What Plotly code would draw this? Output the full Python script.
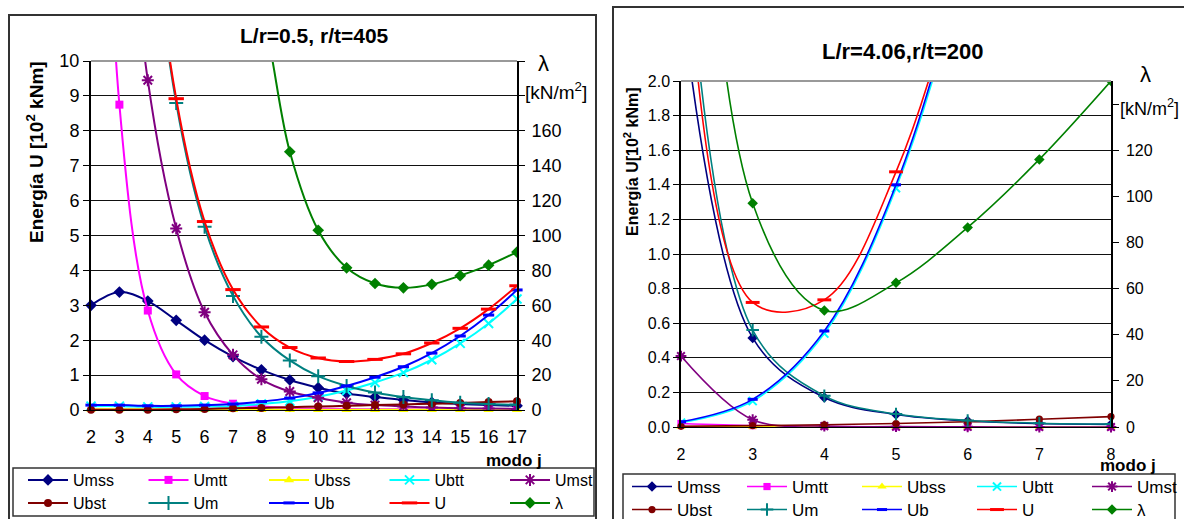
import plotly.graph_objects as go

W, H = 1184, 519

# ---------------- data ----------------
series_names = ["Umss", "Umtt", "Ubss", "Ubtt", "Umst", "Ubst", "Um", "Ub", "U", "λ"]

j_left = [2, 3, 4, 5, 6, 7, 8, 9, 10, 11, 12, 13, 14, 15, 16, 17]
L_Umss = [3.0, 3.38, 3.12, 2.57, 2.0, 1.53, 1.15, 0.86, 0.64, 0.47, 0.37, 0.29, 0.22, 0.17, 0.14, 0.12]
L_Umtt = [30.0, 8.75, 2.85, 1.02, 0.40, 0.18, 0.10, 0.06, 0.04, 0.03, 0.02, 0.02, 0.01, 0.01, 0.01, 0.01]
L_Ubss = [0.02, 0.02, 0.02, 0.01, 0.01, 0.01, 0.01, 0.01, 0.01, 0.01, 0.01, 0.01, 0.01, 0.01, 0.01, 0.01]
L_Ubtt = [0.11, 0.11, 0.09, 0.09, 0.10, 0.11, 0.17, 0.25, 0.38, 0.56, 0.79, 1.07, 1.44, 1.91, 2.48, 3.18]
L_Umst = [40.0, 18.0, 9.45, 5.2, 2.8, 1.58, 0.88, 0.53, 0.35, 0.21, 0.14, 0.10, 0.07, 0.05, 0.04, 0.03]
L_Ubst = [0.01, 0.01, 0.01, 0.02, 0.03, 0.05, 0.06, 0.08, 0.10, 0.12, 0.14, 0.16, 0.18, 0.20, 0.23, 0.25]
L_Um = [72.9, 30.6, 15.4, 8.8, 5.25, 3.27, 2.10, 1.42, 0.97, 0.69, 0.50, 0.37, 0.28, 0.21, 0.17, 0.15]
L_Ub = [0.14, 0.14, 0.12, 0.12, 0.14, 0.17, 0.24, 0.34, 0.49, 0.69, 0.94, 1.24, 1.63, 2.12, 2.72, 3.44]
L_U = [73.0, 30.7, 15.5, 8.92, 5.40, 3.45, 2.38, 1.79, 1.49, 1.39, 1.45, 1.61, 1.92, 2.34, 2.89, 3.56]
L_lam = [2400, 1200, 700, 460, 330, 270, 230, 148, 103, 81.5, 72.5, 70, 72, 77, 83, 90.5]

j_right = [2, 3, 4, 5, 6, 7, 8]
R_Umss = [2.5, 0.515, 0.17, 0.072, 0.035, 0.02, 0.015]
R_Umtt = [0.02, 0.008, 0.003, 0.001, 0.0, 0.0, 0.0]
R_Ubss = [0.002, 0.001, 0.0, 0.0, 0.0, 0.0, 0.0]
R_Ubtt = [0.025, 0.15, 0.54, 1.38, 2.76, 4.95, 7.94]
R_Umst = [0.41, 0.042, 0.005, 0.002, 0.001, 0.0, 0.0]
R_Ubst = [0.004, 0.008, 0.013, 0.02, 0.03, 0.045, 0.06]
R_Um = [3.25, 0.56, 0.18, 0.075, 0.038, 0.022, 0.017]
R_Ub = [0.03, 0.16, 0.555, 1.40, 2.80, 5.00, 8.00]
R_U = [3.3, 0.72, 0.735, 1.475, 2.84, 5.02, 8.02]
R_lam = [450, 97, 50.5, 62.5, 86.5, 116, 150]

left_tick_lam = [0, 20, 40, 60, 80, 100, 120, 140, 160]
left_minor_lam = [180, 200]
right_tick_lam = [0, 20, 40, 60, 80, 100, 120]
right_minor_lam = [140]

# ---------------- styles ----------------
styles = {
    "Umss": dict(color="#000080", symbol="diamond", size=9, lw=0),
    "Umtt": dict(color="#FF00FF", symbol="square", size=8, lw=0),
    "Ubss": dict(color="#FFFF00", symbol="triangle-up", size=9, lw=0),
    "Ubtt": dict(color="#00FFFF", symbol="x-thin-open", size=9, lw=2),
    "Umst": dict(color="#800080", symbol="asterisk-open", size=10, lw=2),
    "Ubst": dict(color="#800000", symbol="circle", size=8, lw=0),
    "Um": dict(color="#008080", symbol="cross-thin-open", size=10, lw=2),
    "Ub": dict(color="#0000FF", symbol="line-ew-open", size=8, lw=3),
    "U": dict(color="#FF0000", symbol="line-ew-open", size=11, lw=3),
    "λ": dict(color="#008000", symbol="diamond", size=9, lw=0),
}

FONT = "Liberation Sans, Arial, sans-serif"

def px(x):
    return x / W

def py(y):
    return 1 - y / H

fig = go.Figure()

left_data = [L_Umss, L_Umtt, L_Ubss, L_Ubtt, L_Umst, L_Ubst, L_Um, L_Ub, L_U, L_lam]
right_data = [R_Umss, R_Umtt, R_Ubss, R_Ubtt, R_Umst, R_Ubst, R_Um, R_Ub, R_U, R_lam]

def add_panel(xs, data, xa, ya, ya2, ymax, y2max, legs, lwidth, msc):
    for i, (name, vals) in enumerate(zip(series_names, data)):
        st = styles[name]
        is_lam = name == "λ"
        top = y2max if is_lam else ymax
        inside = all(0 <= v <= top for v in vals)
        fig.add_trace(go.Scatter(
            x=xs, y=vals, name=name, mode="lines+markers",
            xaxis=xa, yaxis=ya2 if is_lam else ya,
            line=dict(color=st["color"], width=lwidth, shape="spline", smoothing=1.0),
            marker=dict(symbol=st["symbol"], size=st["size"] * msc, color=st["color"],
                        line=dict(color=st["color"], width=st["lw"])),
            cliponaxis=not inside,
            legend=legs[0] if i < 5 else legs[1],
            hoverinfo="skip",
        ))

add_panel(j_left, left_data, "x", "y", "y2", 10, 200, ["legend", "legend2"], 2, 1.0)
add_panel(j_right, right_data, "x2", "y3", "y4", 2, 150, ["legend3", "legend4"], 1.6, 0.9)

axis_common = dict(showline=True, linecolor="#000", zeroline=False, color="#000")

fig.update_layout(
    width=W, height=H,
    margin=dict(l=0, r=0, t=0, b=0, autoexpand=False),
    paper_bgcolor="white", plot_bgcolor="white",
    font=dict(family=FONT, color="#000"),
    showlegend=True,
    xaxis=dict(domain=[px(91), px(517)], anchor="y", range=[2, 17], tickvals=j_left,
               showgrid=False, ticks="", ticklabelstandoff=10, tickfont=dict(size=18),
               linewidth=1, **axis_common),
    yaxis=dict(domain=[py(410), py(61)], anchor="x", range=[0, 10], dtick=1,
               showgrid=True, gridcolor="#111", gridwidth=1, ticks="outside", ticklen=6,
               tickfont=dict(size=18), linewidth=2, **axis_common),
    yaxis2=dict(overlaying="y", side="right", anchor="x", range=[0, 200],
                tickvals=left_tick_lam, showgrid=False,
                minor=dict(tickvals=left_minor_lam, ticks="outside", ticklen=6, tickcolor="#000", showgrid=False),
                ticks="outside", ticklen=6, ticklabelstandoff=3, tickfont=dict(size=18),
                linewidth=2, **axis_common),
    xaxis2=dict(domain=[px(681), px(1111)], anchor="y3", range=[2, 8], tickvals=j_right,
                showgrid=False, ticks="", ticklabelstandoff=13, tickfont=dict(size=16),
                linewidth=1, **axis_common),
    yaxis3=dict(domain=[py(427), py(81)], anchor="x2", range=[0, 2], dtick=0.2, tickformat=".1f",
                showgrid=True, gridcolor="#111", gridwidth=1, ticks="outside", ticklen=6,
                tickfont=dict(size=16), linewidth=1.5, **axis_common),
    yaxis4=dict(overlaying="y3", side="right", anchor="x2", range=[0, 150],
                tickvals=right_tick_lam, showgrid=False,
                minor=dict(tickvals=right_minor_lam, ticks="outside", ticklen=6, tickcolor="#000", showgrid=False),
                ticks="outside", ticklen=6, ticklabelstandoff=4, tickfont=dict(size=16),
                linewidth=1.5, **axis_common),
)

leg_common = dict(orientation="h", xanchor="left", yanchor="middle", bgcolor="rgba(0,0,0,0)",
                  borderwidth=0, entrywidthmode="pixels", tracegroupgap=0, itemwidth=40)
fig.update_layout(
    legend=dict(x=px(23), y=py(480), entrywidth=65.5, font=dict(size=16, family=FONT), **leg_common),
    legend2=dict(x=px(23), y=py(503), entrywidth=65.5, font=dict(size=16, family=FONT), **leg_common),
    legend3=dict(x=px(627), y=py(487), entrywidth=60, font=dict(size=17, family=FONT), **leg_common),
    legend4=dict(x=px(627), y=py(510), entrywidth=60, font=dict(size=17, family=FONT), **leg_common),
)

shapes = [
    # outer panel borders
    dict(type="rect", xref="paper", yref="paper", x0=px(9), x1=px(596), y0=-0.05, y1=py(15),
         line=dict(color="#333", width=2), layer="below"),
    dict(type="rect", xref="paper", yref="paper", x0=px(613), x1=1.05, y0=-0.05, y1=py(7),
         line=dict(color="#333", width=2), layer="below"),
    # legend boxes
    dict(type="rect", xref="paper", yref="paper", x0=px(13), x1=px(594), y0=py(516), y1=py(468),
         line=dict(color="#333", width=1.5)),
    dict(type="rect", xref="paper", yref="paper", x0=px(623), x1=px(1175), y0=-0.05, y1=py(474),
         line=dict(color="#333", width=1.5)),
    # grey top edges of plot areas
    dict(type="line", xref="x domain", yref="y domain", x0=0, x1=1, y0=1, y1=1,
         line=dict(color="#999", width=2)),
    dict(type="line", xref="x2 domain", yref="y3 domain", x0=0, x1=1, y0=1, y1=1,
         line=dict(color="#999", width=2)),
]
fig.update_layout(shapes=shapes)

def ann(text, x, y, size, bold=False, angle=0):
    return dict(text=f"<b>{text}</b>" if bold else text, x=px(x), y=py(y), xref="paper", yref="paper",
                showarrow=False, xanchor="center", yanchor="middle", textangle=angle,
                font=dict(size=size, family=FONT, color="#000"))

annotations = [
    ann("L/r=0.5, r/t=405", 314, 36, 21, bold=True),
    ann("L/r=4.06,r/t=200", 902, 51, 22, bold=True),
    ann("Energía U [10<sup>2</sup> kNm]", 35, 152, 19, bold=True, angle=-90),
    ann("Energía U[10<sup>2</sup> kNm]", 631, 162, 16, bold=True, angle=-90),
    ann("λ", 543, 63, 22),
    ann("[kN/m<sup>2</sup>]", 556, 91, 19),
    ann("λ", 1145, 75, 22),
    ann("[kN/m<sup>2</sup>]", 1149, 107, 18),
    ann("modo j", 514, 460, 17, bold=True),
    ann("modo j", 1128, 465, 17, bold=True),
]
fig.update_layout(annotations=annotations)

fig.write_html("out.html")
